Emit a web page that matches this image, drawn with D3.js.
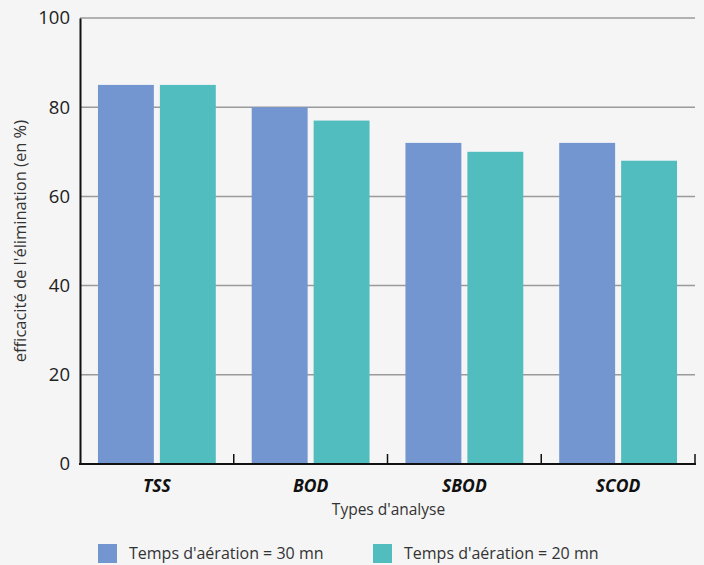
<!DOCTYPE html>
<html><head><meta charset="utf-8">
<script src="https://cdn.jsdelivr.net/npm/d3@7"></script>
<style>body{margin:0;background:#f5f5f5;} svg{display:block;font-family:"Open Sans","Noto Sans",sans-serif;}</style>
</head><body>
<svg id="c" width="704" height="565"></svg>
<script>
const categories = ["TSS","BOD","SBOD","SCOD"];
const series30 = [85,80,72,72];
const series20 = [85,77,70,68];
const seriesNames = ["Temps d'aération = 30 mn","Temps d'aération = 20 mn"];
const yTicks = [0,20,40,60,80,100];
const colors = ["#7396d0","#52bdbe"];

const svg = d3.select("#c");
svg.append("rect").attr("width",704).attr("height",565).attr("fill","#f5f5f5");
const L=80,R=695,T=18,B=464;
const x = d3.scaleBand().domain(categories).range([L,R]).paddingInner(0).paddingOuter(0);
const y = d3.scaleLinear().domain([0,100]).range([B,T]);
const x1 = d3.scaleBand().domain([0,1]).range([0,x.bandwidth()]).paddingInner(0.097).paddingOuter(0.29);

// grid
svg.append("g").selectAll("line").data(yTicks.filter(d=>d>0)).join("line")
  .attr("x1",L).attr("x2",R).attr("y1",d=>y(d)).attr("y2",d=>y(d))
  .attr("stroke","#9a9a9a").attr("stroke-width",1.5);

// bars
const data = categories.map((c,i)=>({c,v:[series30[i],series20[i]]}));
const g = svg.append("g").selectAll("g").data(data).join("g").attr("transform",d=>`translate(${x(d.c)},0)`);
g.selectAll("rect").data(d=>d.v.map((v,j)=>({v,j}))).join("rect")
  .attr("x",d=>x1(d.j)).attr("width",x1.bandwidth())
  .attr("y",d=>y(d.v)).attr("height",d=>B-y(d.v)).attr("fill",d=>colors[d.j]);

// y axis
const ya = svg.append("g").attr("transform",`translate(${L},0)`).call(d3.axisLeft(y).tickValues(yTicks).tickSize(0).tickPadding(10));
ya.select(".domain").attr("stroke","#111").attr("stroke-width",2);
ya.selectAll("text").attr("font-size",18.5).attr("fill","#222").attr("font-family","'Open Sans',sans-serif");

// x axis
const xa = svg.append("g").attr("transform",`translate(0,${B})`);
xa.append("line").attr("x1",L-1).attr("x2",R+1).attr("y1",0).attr("y2",0).attr("stroke","#111").attr("stroke-width",2);
xa.selectAll(".tk").data(categories.map(c=>x(c)+x.bandwidth())).join("line").attr("class","tk")
  .attr("x1",d=>d).attr("x2",d=>d).attr("y1",0).attr("y2",-10).attr("stroke","#111").attr("stroke-width",1.5);
xa.selectAll("text").data(categories).join("text")
  .attr("x",d=>x(d)+x.bandwidth()/2).attr("y",28).attr("text-anchor","middle")
  .attr("font-size",17.5).attr("font-weight","bold").attr("font-style","italic").attr("fill","#111").text(d=>d);

svg.append("text").attr("x",(L+R)/2+1).attr("y",515).attr("text-anchor","middle").attr("font-size",15.5).attr("fill","#333").text("Types d'analyse");
svg.append("text").attr("transform",`translate(26,${(T+B)/2}) rotate(-90)`).attr("text-anchor","middle").attr("font-size",16.5).attr("fill","#333").text("efficacité de l'élimination (en %)");

// legend
const legX=[98,373];
seriesNames.forEach((n,i)=>{
  svg.append("rect").attr("x",legX[i]).attr("y",544).attr("width",19).attr("height",19).attr("fill",colors[i]);
  svg.append("text").attr("x",legX[i]+31).attr("y",559).attr("font-size",16).attr("fill","#333").text(n);
});
</script>
</body></html>
